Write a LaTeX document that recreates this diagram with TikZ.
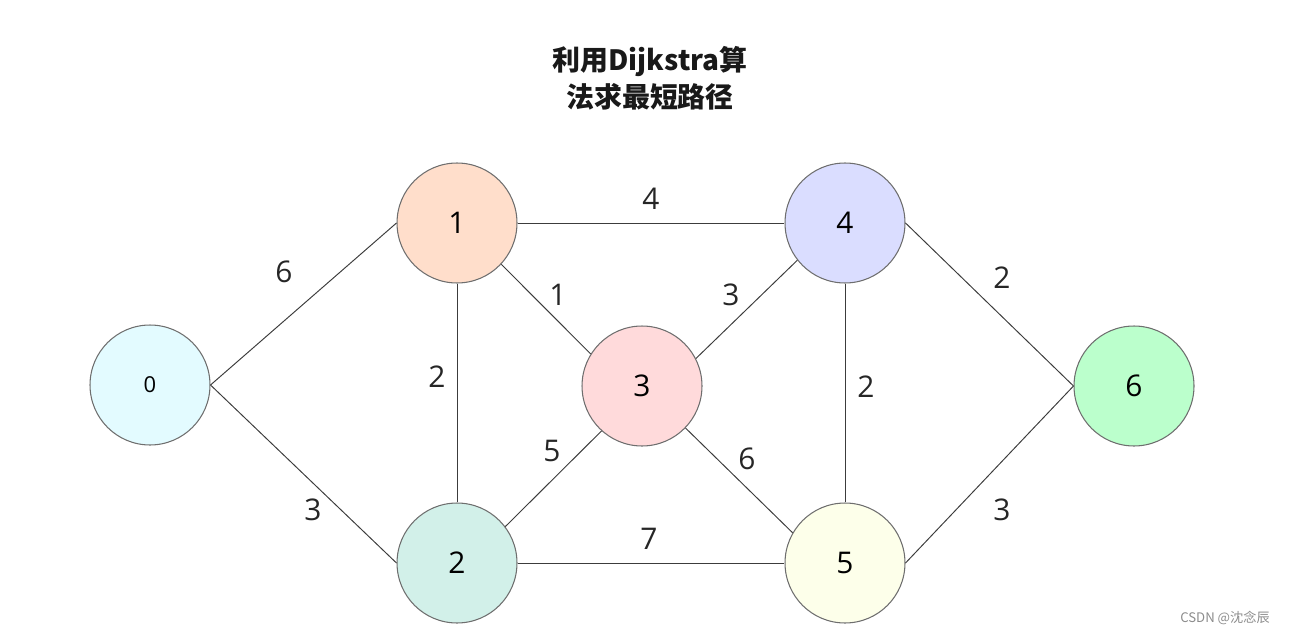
\documentclass[tikz,border=0pt]{standalone}
\usepackage{fontspec}
\setmainfont{Open Sans}
\newfontfamily\cjk{Noto Sans CJK SC}
\usepackage{tikz}
\usetikzlibrary{positioning}
\definecolor{vline}{RGB}{60,60,60}
\definecolor{vrim}{RGB}{110,110,110}
\definecolor{fzero}{RGB}{227,251,255}
\definecolor{fone}{RGB}{255,222,203}
\definecolor{ftwo}{RGB}{210,240,233}
\definecolor{fthree}{RGB}{255,218,219}
\definecolor{ffour}{RGB}{218,221,255}
\definecolor{ffive}{RGB}{253,255,234}
\definecolor{fsix}{RGB}{187,255,204}
\tikzset{
  vert/.style={circle,draw=vrim,line width=0.6pt,minimum size=2.4cm,inner sep=0pt,
    font=\fontsize{17}{20}\selectfont},
  road/.style={vline,line width=0.55pt},
  wt/.style={font=\fontsize{17}{20}\selectfont,text=black!85},
  ttl/.style={font=\cjk\bfseries\fontsize{15.9}{21}\selectfont,align=center,text=black!90},
  wmark/.style={font=\cjk\fontsize{7.5}{9}\selectfont,text=black!45}
}

\begin{document}
\begin{tikzpicture}[x=0.02cm,y=-0.02cm]
  \useasboundingbox (0,0) rectangle (1291,635);
  % title
  \node[ttl] (title) at (650,78) {利用Dijkstra算\\法求最短路径};
  % vertices
  \node[vert,fill=fzero,font=\fontsize{12.5}{15}\selectfont] (n0) at (150,385) {0};
  \node[vert,fill=fone] (n1) at (457,223) {1};
  \node[vert,fill=ftwo] (n2) at (457,563) {2};
  \node[vert,fill=fthree] (n3) at (642,386) {3};
  \node[vert,fill=ffour] (n4) at (845,223) {4};
  \node[vert,fill=ffive] (n5) at (845,563) {5};
  \node[vert,fill=fsix] (n6) at (1134,386) {6};
  % roads
  \draw[road] (n0.east) -- (n1.west);
  \draw[road] (n0.east) -- (n2.west);
  \draw[road] (n1.east) -- (n4.west);
  \draw[road] (n1.south) -- (n2.north);
  \draw[road] (n1.-43) -- (n3.148);
  \draw[road] (n3.27) -- (n4.218);
  \draw[road] (n2.37) -- (n3.228);
  \draw[road] (n3.-44) -- (n5.150);
  \draw[road] (n2.east) -- (n5.west);
  \draw[road] (n4.south) -- (n5.north);
  \draw[road] (n4.east) -- (n6.west);
  \draw[road] (n5.east) -- (n6.west);
  % weights
  \node[wt] (w01) at (284,272) {6};
  \node[wt] (w02) at (313,510) {3};
  \node[wt] (w14) at (651,199) {4};
  \node[wt] (w13) at (558,295) {1};
  \node[wt] (w12) at (437,377) {2};
  \node[wt] (w34) at (731,295) {3};
  \node[wt] (w23) at (552,451) {5};
  \node[wt] (w35) at (747,459) {6};
  \node[wt] (w25) at (649,539) {7};
  \node[wt] (w45) at (866,387) {2};
  \node[wt] (w46) at (1002,278) {2};
  \node[wt] (w56) at (1002,510) {3};
  % watermark
  \node[wmark] (wm) at (1225,618) {CSDN @沈念辰};
\end{tikzpicture}
\end{document}
